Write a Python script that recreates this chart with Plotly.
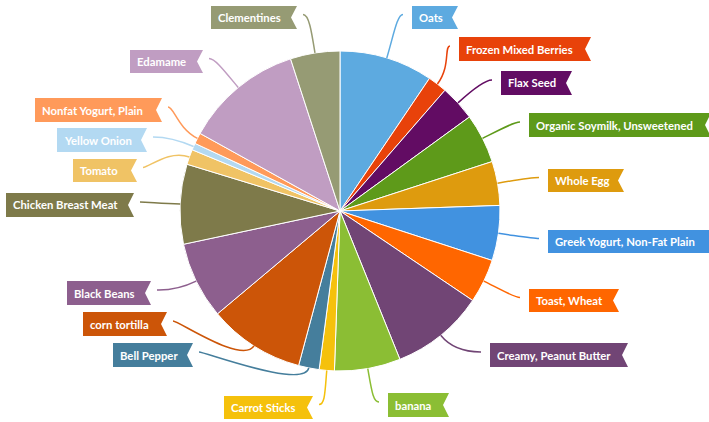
import math
import plotly.graph_objects as go

W, H = 709, 422

labels = ["Oats", "Frozen Mixed Berries", "Flax Seed", "Organic Soymilk, Unsweetened",
          "Whole Egg", "Greek Yogurt, Non-Fat Plain", "Toast, Wheat", "Creamy, Peanut Butter",
          "banana", "Carrot Sticks", "Bell Pepper", "corn tortilla", "Black Beans",
          "Chicken Breast Meat", "Tomato", "Yellow Onion", "Nonfat Yogurt, Plain",
          "Edamame", "Clementines"]
values = [34, 7, 13, 18, 16, 20, 16, 34, 24, 5.5, 7.5, 35, 28, 29, 5.5, 2.5, 4, 43, 18]
colors = ["#5DAAE0", "#E8420A", "#620C63", "#5E9A1A", "#DE9B0E", "#4192E0", "#FF6600",
          "#714575", "#8BBE34", "#F5C10C", "#457E9C", "#CC5508", "#8D5F8E", "#7E7A4A",
          "#F0C365", "#B3D9F2", "#FF9A5A", "#C09DC2", "#969B74"]

# label flag boxes (x0, x1, y0, y1) in pixels - layout only
boxes = [(412, 458, 6, 29), (459, 591, 37, 61), (501, 572, 71, 95), (529, 711, 113, 137),
         (548, 624, 169, 192), (548, 716, 230, 253), (529, 619, 289, 312), (490, 628, 343, 367),
         (388, 449, 393, 417), (224, 313, 396, 419), (113, 193, 343, 367), (83, 167, 312, 336),
         (67, 151, 281, 305), (6, 134, 193, 217), (73, 137, 159, 182), (57, 147, 128, 152),
         (35, 162, 98, 122), (130, 203, 50, 73), (211, 297, 6, 29)]

CX, CY, R = 340, 211, 160

def px(x):
    return x / W

def py(y):
    return 1 - y / H

fig = go.Figure(go.Pie(
    labels=labels, values=values, sort=False, direction="clockwise", rotation=0,
    marker=dict(colors=colors, line=dict(color="white", width=1)),
    textinfo="none", hoverinfo="label+percent",
    domain=dict(x=[(CX - R) / W, (CX + R) / W], y=[(H - CY - R) / H, (H - CY + R) / H]),
    showlegend=False,
))

total = sum(values)
shapes = []
annotations = []
cum = 0
for lab, v, col, (x0, x1, y0, y1) in zip(labels, values, colors, boxes):
    mid = (cum + v / 2) / total * 2 * math.pi
    cum += v
    ux, uy = math.sin(mid), -math.cos(mid)
    sx, sy = CX + R * ux, CY + R * uy
    ym = (y0 + y1) / 2
    right = (x0 + x1) / 2 > CX + 20 or lab == "Oats" or lab == "banana"
    if right:
        ex, ey = x0 - 9, ym - 3
        c2x = ex - 6
    else:
        ex, ey = x1 + 6, ym - 3
        c2x = ex + 6
    c1x, c1y = sx + ux * 22, sy + uy * 22
    path = (f"M {px(sx)},{py(sy)} C {px(c1x)},{py(c1y)} {px(c2x)},{py(ey)} {px(ex)},{py(ey)}")
    shapes.append(dict(type="path", xref="paper", yref="paper", path=path,
                       line=dict(color=col, width=1.5), layer="above"))
    n = 6
    flag = (f"M {px(x0)},{py(y0)} L {px(x1)},{py(y0)} L {px(x1 - n)},{py(ym)} "
            f"L {px(x1)},{py(y1)} L {px(x0)},{py(y1)} Z")
    shapes.append(dict(type="path", xref="paper", yref="paper", path=flag,
                       fillcolor=col, line=dict(width=0), layer="above"))
    annotations.append(dict(x=px(x0 + 5), y=py(ym), xref="paper", yref="paper",
                            text=lab, showarrow=False, xanchor="left", yanchor="middle",
                            font=dict(family="Lato", size=11.3, color="white", weight="bold")))

fig.update_layout(
    width=W, height=H, margin=dict(l=0, r=0, t=0, b=0),
    paper_bgcolor="white", plot_bgcolor="white",
    shapes=shapes, annotations=annotations,
)
fig.write_html("out.html")
